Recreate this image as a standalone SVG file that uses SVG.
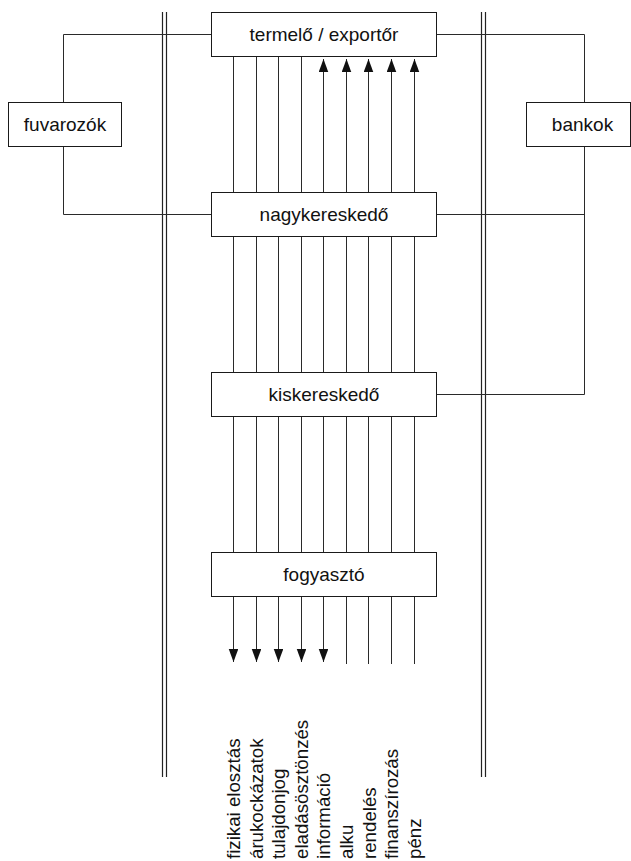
<svg xmlns="http://www.w3.org/2000/svg" width="631" height="861" viewBox="0 0 631 861">
  <style>
    .bg { fill: #ffffff; }
    .box { fill: #ffffff; stroke: #1a1a1a; stroke-width: 1; }
    .wire { fill: none; stroke: #2a2a2a; stroke-width: 1; }
    .flow { fill: none; stroke: #2a2a2a; stroke-width: 1; }
    .rail { fill: none; stroke: #222222; stroke-width: 1.2; }
    .lbl { font-family: "Liberation Sans", Arial, sans-serif; font-size: 19px; fill: #111111; text-anchor: middle; }
    .chan { font-family: "Liberation Sans", Arial, sans-serif; font-size: 18.7px; fill: #111111; text-anchor: start; }
  </style>
  <defs>
    <marker id="arrow" markerUnits="userSpaceOnUse" markerWidth="14" markerHeight="10" refX="13" refY="4.75" orient="auto-start-reverse">
      <path d="M0,0 L13,4.75 L0,9.5 z" fill="#111111"/>
    </marker>
  </defs>

  <rect class="bg" x="0" y="0" width="631" height="861"/>

  <!-- boundary rails -->
  <g id="rails">
    <path class="rail" d="M162.5,12 V777 M166.5,12 V777"/>
    <path class="rail" d="M481.5,12 V777 M485.5,12 V777"/>
  </g>

  <!-- connectors -->
  <g id="connectors">
    <!-- carriers loop -->
    <path class="wire" d="M211.5,34.5 H63.5 V214.5 H211.5"/>
    <!-- banks loop -->
    <path class="wire" d="M436.5,34.5 H584.5 V394.5 H436.5 M436.5,214.5 H584.5"/>
    <!-- downward flows -->
    <path class="flow" d="M233.5,57 V662" marker-end="url(#arrow)"/>
    <path class="flow" d="M256.5,57 V662" marker-end="url(#arrow)"/>
    <path class="flow" d="M278.5,57 V662" marker-end="url(#arrow)"/>
    <path class="flow" d="M301.5,57 V662" marker-end="url(#arrow)"/>
    <!-- two-way flow -->
    <path class="flow" d="M323.5,59 V662" marker-start="url(#arrow)" marker-end="url(#arrow)"/>
    <!-- upward flows -->
    <path class="flow" d="M346.5,664 V59" marker-end="url(#arrow)"/>
    <path class="flow" d="M368.5,664 V59" marker-end="url(#arrow)"/>
    <path class="flow" d="M391.5,664 V59" marker-end="url(#arrow)"/>
    <path class="flow" d="M414.5,664 V59" marker-end="url(#arrow)"/>
  </g>

  <g id="termelo">
    <rect class="box" x="211.5" y="12.5" width="225" height="44"/>
    <text class="lbl" x="324" y="41">termelő / exportőr</text>
  </g>
  <g id="nagykereskedo">
    <rect class="box" x="211.5" y="192.5" width="225" height="44"/>
    <text class="lbl" x="324" y="221">nagykereskedő</text>
  </g>
  <g id="kiskereskedo">
    <rect class="box" x="211.5" y="372.5" width="225" height="44"/>
    <text class="lbl" x="324" y="401">kiskereskedő</text>
  </g>
  <g id="fogyaszto">
    <rect class="box" x="211.5" y="552.5" width="225" height="44"/>
    <text class="lbl" x="324" y="581">fogyasztó</text>
  </g>
  <g id="fuvarozok">
    <rect class="box" x="8.5" y="102.5" width="113" height="44"/>
    <text class="lbl" x="65" y="131">fuvarozók</text>
  </g>
  <g id="bankok">
    <rect class="box" x="526.5" y="102.5" width="104" height="44"/>
    <text class="lbl" x="582.5" y="131">bankok</text>
  </g>

  <!-- channel labels -->
  <g id="channel-labels">
    <text class="chan" transform="translate(240,859) rotate(-90)">fizikai elosztás</text>
    <text class="chan" transform="translate(262.6,859) rotate(-90)">árukockázatok</text>
    <text class="chan" transform="translate(285.2,859) rotate(-90)">tulajdonjog</text>
    <text class="chan" transform="translate(307.8,859) rotate(-90)">eladásösztönzés</text>
    <text class="chan" transform="translate(330.4,859) rotate(-90)">információ</text>
    <text class="chan" transform="translate(353,859) rotate(-90)">alku</text>
    <text class="chan" transform="translate(375.6,859) rotate(-90)">rendelés</text>
    <text class="chan" transform="translate(398.2,859) rotate(-90)">finanszírozás</text>
    <text class="chan" transform="translate(420.8,859) rotate(-90)">pénz</text>
  </g>
</svg>
